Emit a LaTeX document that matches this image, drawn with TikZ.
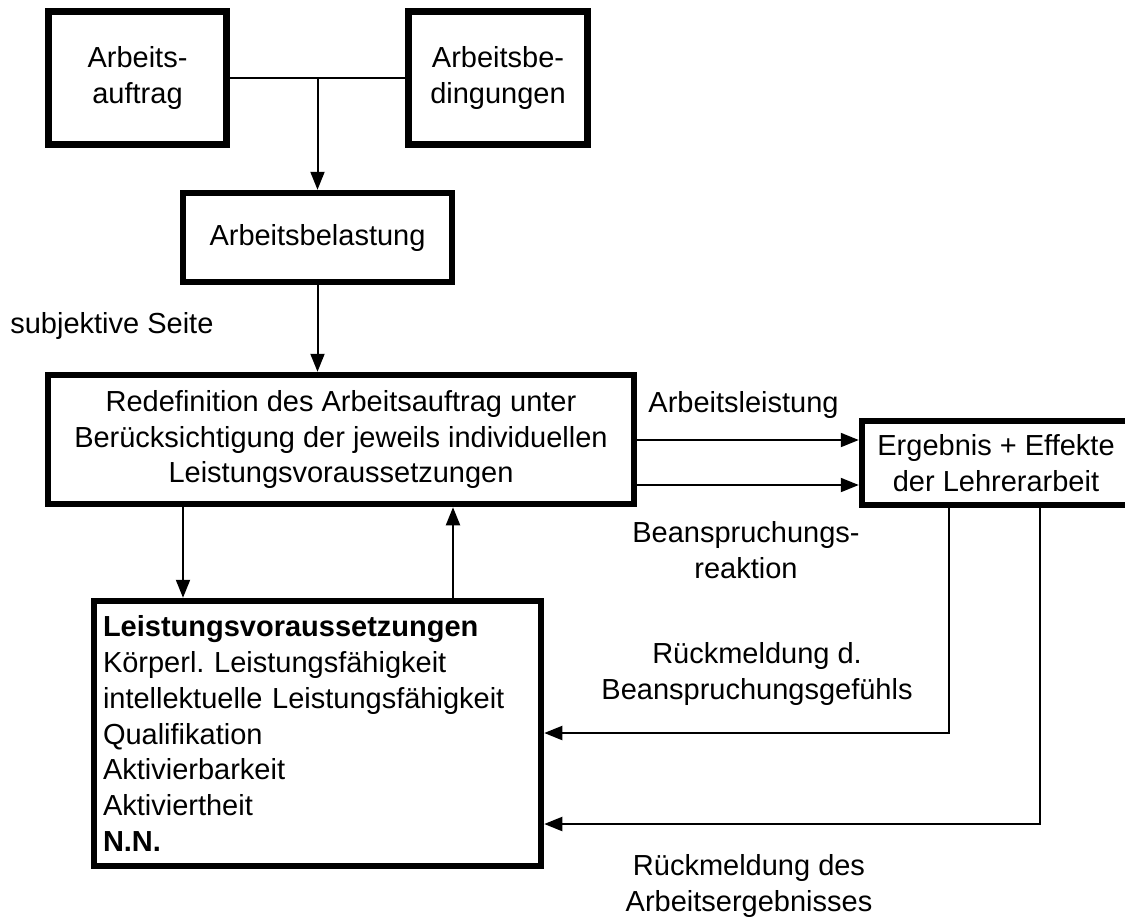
\documentclass[tikz,border=0pt]{standalone}
\usepackage{fontspec}
\setmainfont{Liberation Sans}
\usetikzlibrary{arrows.meta}
\frenchspacing

\tikzset{
  box/.style={draw,line width=0.13cm,align=center,inner sep=0pt},
  conn/.style={line width=0.04cm},
  arr/.style={conn,-{Triangle[length=0.36cm,width=0.28cm]}},
  lbl/.style={align=center,inner sep=0pt}
}

\begin{document}
\begin{tikzpicture}[font=\fontsize{16.5}{20.4}\selectfont]
    \useasboundingbox (0,0) rectangle (22.5,-18.38);

    \node[box,minimum width=3.56cm,minimum height=2.66cm] (auftrag) at (2.75,-1.56) {Arbeits-\\auftrag};
    \node[box,minimum width=3.58cm,minimum height=2.66cm] (bedingungen) at (9.96,-1.56) {Arbeitsbe-\\dingungen};
    \node[box,minimum width=5.38cm,minimum height=1.78cm] (belastung) at (6.35,-4.75) {Arbeitsbelastung};
    \node[lbl,anchor=west] (subjektiv) at (0.2,-6.52) {subjektive Seite};
    \node[box,minimum width=11.72cm,minimum height=2.58cm] (redef) at (6.82,-8.79) {Redefinition des Arbeitsauftrag unter\\Berücksichtigung der jeweils individuellen\\Leistungsvoraussetzungen};
    \node[box,minimum width=5.36cm,minimum height=1.68cm] (ergebnis) at (19.92,-9.26) {Ergebnis + Effekte\\der Lehrerarbeit};
    \node[box,align=left,text width=8.58cm,inner xsep=0.18cm,minimum height=5.30cm] (voraus) at (6.35,-14.67) {\textbf{Leistungsvoraussetzungen}\\Körperl. Leistungsfähigkeit\\intellektuelle Leistungsfähigkeit\\Qualifikation\\Aktivierbarkeit\\Aktiviertheit\\\textbf{N.N.}};

    \node[lbl] (leistung) at (14.87,-8.10) {Arbeitsleistung};
    \node[lbl] (reaktion) at (14.92,-11.0) {Beanspruchungs-\\reaktion};
    \node[lbl] (rueck1) at (15.14,-13.48) {Rückmeldung d.\\Beanspruchungsgefühls};
    \node[lbl] (rueck2) at (14.98,-17.72) {Rückmeldung des\\Arbeitsergebnisses};

    \coordinate (knoten) at (belastung.north |- auftrag.east);
    \coordinate (oben) at (0,-8.80);
    \coordinate (unten) at (0,-9.70);
    \coordinate (runter) at (3.66,0);
    \coordinate (rauf) at (9.06,0);
    \coordinate (fb1) at (18.98,-14.66);
    \coordinate (fb2) at (20.80,-16.48);

    \draw[conn] (auftrag.east) -- (bedingungen.west);
    \draw[arr] (knoten) -- (belastung.north);
    \draw[arr] (belastung.south) -- (belastung.south |- redef.north);
    \draw[arr] (redef.east |- oben) -- (ergebnis.west |- oben);
    \draw[arr] (redef.east |- unten) -- (ergebnis.west |- unten);
    \draw[arr] (redef.south -| runter) -- (voraus.north -| runter);
    \draw[arr] (voraus.north -| rauf) -- (redef.south -| rauf);
    \draw[arr] (ergebnis.south -| fb1) -- (fb1) -- (voraus.east |- fb1);
    \draw[arr] (ergebnis.south -| fb2) -- (fb2) -- (voraus.east |- fb2);
\end{tikzpicture}
\end{document}
